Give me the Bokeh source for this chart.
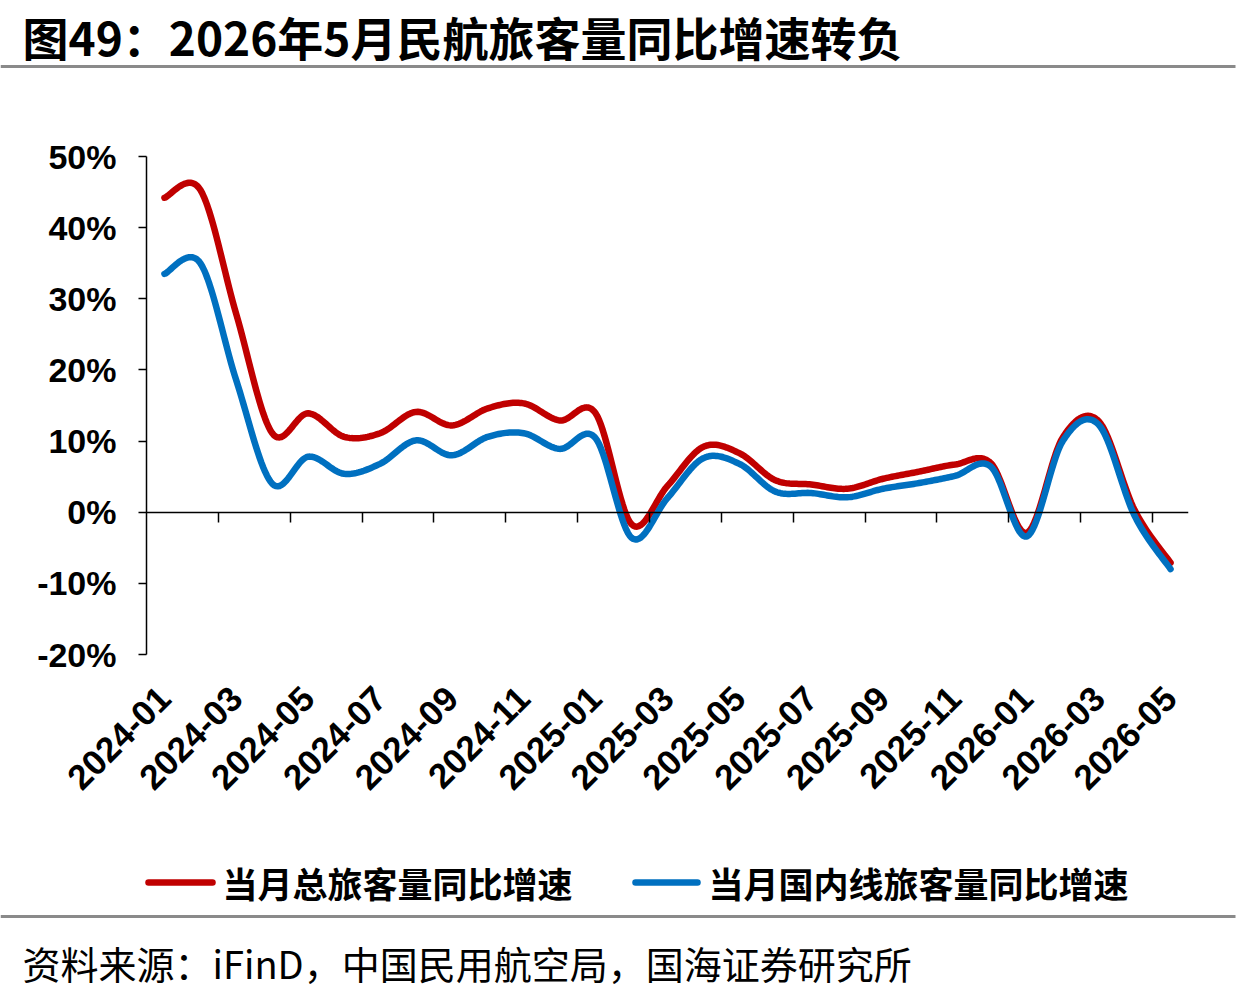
import math

from bokeh.embed import file_html
from bokeh.models import (FixedTicker, Label, LinearAxis, PrintfTickFormatter,
                          Range1d)
from bokeh.plotting import figure
from bokeh.resources import INLINE

# ---- data (year-on-year growth, %) ----
months = [
    "2024-01", "2024-02", "2024-03", "2024-04", "2024-05", "2024-06",
    "2024-07", "2024-08", "2024-09", "2024-10", "2024-11", "2024-12",
    "2025-01", "2025-02", "2025-03", "2025-04", "2025-05", "2025-06",
    "2025-07", "2025-08", "2025-09", "2025-10", "2025-11", "2025-12",
    "2026-01", "2026-02", "2026-03", "2026-04", "2026-05",
]
total_yoy = [
    44.2, 45.3, 27.8, 11.1, 13.9, 10.6, 11.1, 14.1, 12.2, 14.6, 15.3, 12.9,
    13.9, -1.7, 3.7, 9.2, 8.3, 4.5, 3.9, 3.3, 4.7, 5.7, 6.7, 6.9,
    -2.9, 10.5, 12.8, 0.3, -7.1,
]
domestic_yoy = [
    33.5, 35.0, 18.5, 4.0, 7.8, 5.4, 6.8, 10.1, 8.0, 10.6, 11.1, 8.9,
    10.4, -3.6, 2.0, 7.6, 6.8, 2.9, 2.7, 2.1, 3.3, 4.1, 5.1, 6.4,
    -3.4, 10.0, 12.3, -0.5, -8.0,
]
y_ticks = [-20, -10, 0, 10, 20, 30, 40, 50]
series_names = ["当月总旅客量同比增速", "当月国内线旅客量同比增速"]
series_colors = ["#C00000", "#0070C0"]

title_text = "图49：2026年5月民航旅客量同比增速转负"
source_text = "资料来源：iFinD，中国民用航空局，国海证券研究所"

CJK = "Noto Sans CJK SC"
LATIN = "Liberation Sans"
RULE_COLOR = "#8a8a8a"

# ---- page geometry (pixels) ----
W = 1257
HEAD_H, MAIN_H, FOOT_H = 100, 730, 164
FL, FR, FT, FB = 146, 1188, 56, 554   # plot frame inside the main figure


def smooth(xs, ys, steps=20):
    """Catmull-Rom curve through the points, for a smoothed line."""
    px = [xs[0]] + list(xs) + [xs[-1]]
    py = [ys[0]] + list(ys) + [ys[-1]]
    ox, oy = [], []
    for i in range(1, len(px) - 2):
        x0, x1, x2, x3 = px[i - 1], px[i], px[i + 1], px[i + 2]
        y0, y1, y2, y3 = py[i - 1], py[i], py[i + 1], py[i + 2]
        for s in range(steps):
            t = s / steps
            t2, t3 = t * t, t * t * t
            ox.append(0.5 * (2 * x1 + (-x0 + x2) * t + (2 * x0 - 5 * x1 + 4 * x2 - x3) * t2
                             + (-x0 + 3 * x1 - 3 * x2 + x3) * t3))
            oy.append(0.5 * (2 * y1 + (-y0 + y2) * t + (2 * y0 - 5 * y1 + 4 * y2 - y3) * t2
                             + (-y0 + 3 * y1 - 3 * y2 + y3) * t3))
    ox.append(xs[-1])
    oy.append(ys[-1])
    return ox, oy


def panel(height, top):
    """Blank strip whose data units are page pixels (y grows downward)."""
    f = figure(
        width=W, height=height, output_backend="svg", toolbar_location=None,
        x_range=Range1d(0, W), y_range=Range1d(top + height, top),
        x_axis_location=None, y_axis_location=None,
        min_border=0,
    )
    f.outline_line_color = None
    f.grid.visible = False
    f.background_fill_color = "white"
    f.border_fill_color = "white"
    return f


# ---- header: title and rule ----
head = panel(HEAD_H, 0)
head.add_layout(Label(
    x=22, y=35, text=title_text,
    text_font=CJK, text_font_style="bold", text_font_size="46px",
    text_color="black", text_baseline="middle", text_align="left",
))
head.segment(x0=[0], y0=[66], x1=[1235], y1=[66], line_color=RULE_COLOR, line_width=3)

# ---- main chart ----
p = figure(
    width=W, height=MAIN_H, output_backend="svg", toolbar_location=None,
    x_range=Range1d(0, len(months)), y_range=Range1d(-20, 50),
    x_axis_location=None, y_axis_location=None,
    min_border_left=FL, min_border_right=W - FR,
    min_border_top=FT, min_border_bottom=MAIN_H - FB,
)
p.outline_line_color = None
p.background_fill_color = "white"
p.border_fill_color = "white"
p.grid.visible = False

yax = LinearAxis(
    ticker=FixedTicker(ticks=y_ticks),
    formatter=PrintfTickFormatter(format="%d%%"),
    axis_line_color="black", axis_line_width=1.5,
    major_tick_line_color="black", major_tick_line_width=1.5,
    major_tick_in=0, major_tick_out=8,
    minor_tick_line_color=None,
    major_label_standoff=22,
    major_label_text_font=LATIN, major_label_text_font_style="bold",
    major_label_text_font_size="34px", major_label_text_color="black",
)
p.add_layout(yax, "left")

# zero line carrying the month ticks
x_idx = [i + 0.5 for i in range(len(months))]
zero_ax = LinearAxis(
    fixed_location=0,
    ticker=FixedTicker(ticks=list(range(2, len(months), 2))),
    axis_line_color="black", axis_line_width=1.5,
    major_tick_line_color="black", major_tick_line_width=1.5,
    major_tick_in=0, major_tick_out=10,
    minor_tick_line_color=None,
    major_label_text_color=None, major_label_text_font_size="1px",
)
p.add_layout(zero_ax, "below")

# month labels along the bottom edge
label_pos = [x_idx[i] for i in range(0, len(months), 2)]
month_ax = LinearAxis(
    ticker=FixedTicker(ticks=label_pos),
    major_label_overrides={x_idx[i]: months[i] for i in range(0, len(months), 2)},
    axis_line_color=None, major_tick_line_color=None, minor_tick_line_color=None,
    major_label_orientation=math.pi / 4,
    major_label_standoff=32,
    major_label_text_font=LATIN, major_label_text_font_style="bold",
    major_label_text_font_size="35px", major_label_text_color="black",
)
p.add_layout(month_ax, "below")

for vals, color in zip([total_yoy, domestic_yoy], series_colors):
    cx, cy = smooth(x_idx, vals)
    p.line(cx, cy, line_color=color, line_width=6.5, line_cap="round", line_join="round")

# ---- footer: legend, rule and source ----
foot = panel(FOOT_H, HEAD_H + MAIN_H)
legend_items = [(148, 212, 222), (635, 697, 708)]
for (x0, x1, tx), name, color in zip(legend_items, series_names, series_colors):
    foot.segment(x0=[x0], y0=[882], x1=[x1], y1=[882],
                 line_color=color, line_width=6.5, line_cap="round")
    foot.add_layout(Label(
        x=tx, y=882, text=name,
        text_font=CJK, text_font_style="bold", text_font_size="35px",
        text_color="black", text_baseline="middle", text_align="left",
    ))
foot.segment(x0=[0], y0=[916], x1=[1235], y1=[916], line_color=RULE_COLOR, line_width=3)
foot.add_layout(Label(
    x=22, y=962, text=source_text,
    text_font=CJK, text_font_size="38px",
    text_color="black", text_baseline="middle", text_align="left",
))

# three stacked page sections, each its own root
open("out.html", "w").write(file_html([head, p, foot], INLINE))
